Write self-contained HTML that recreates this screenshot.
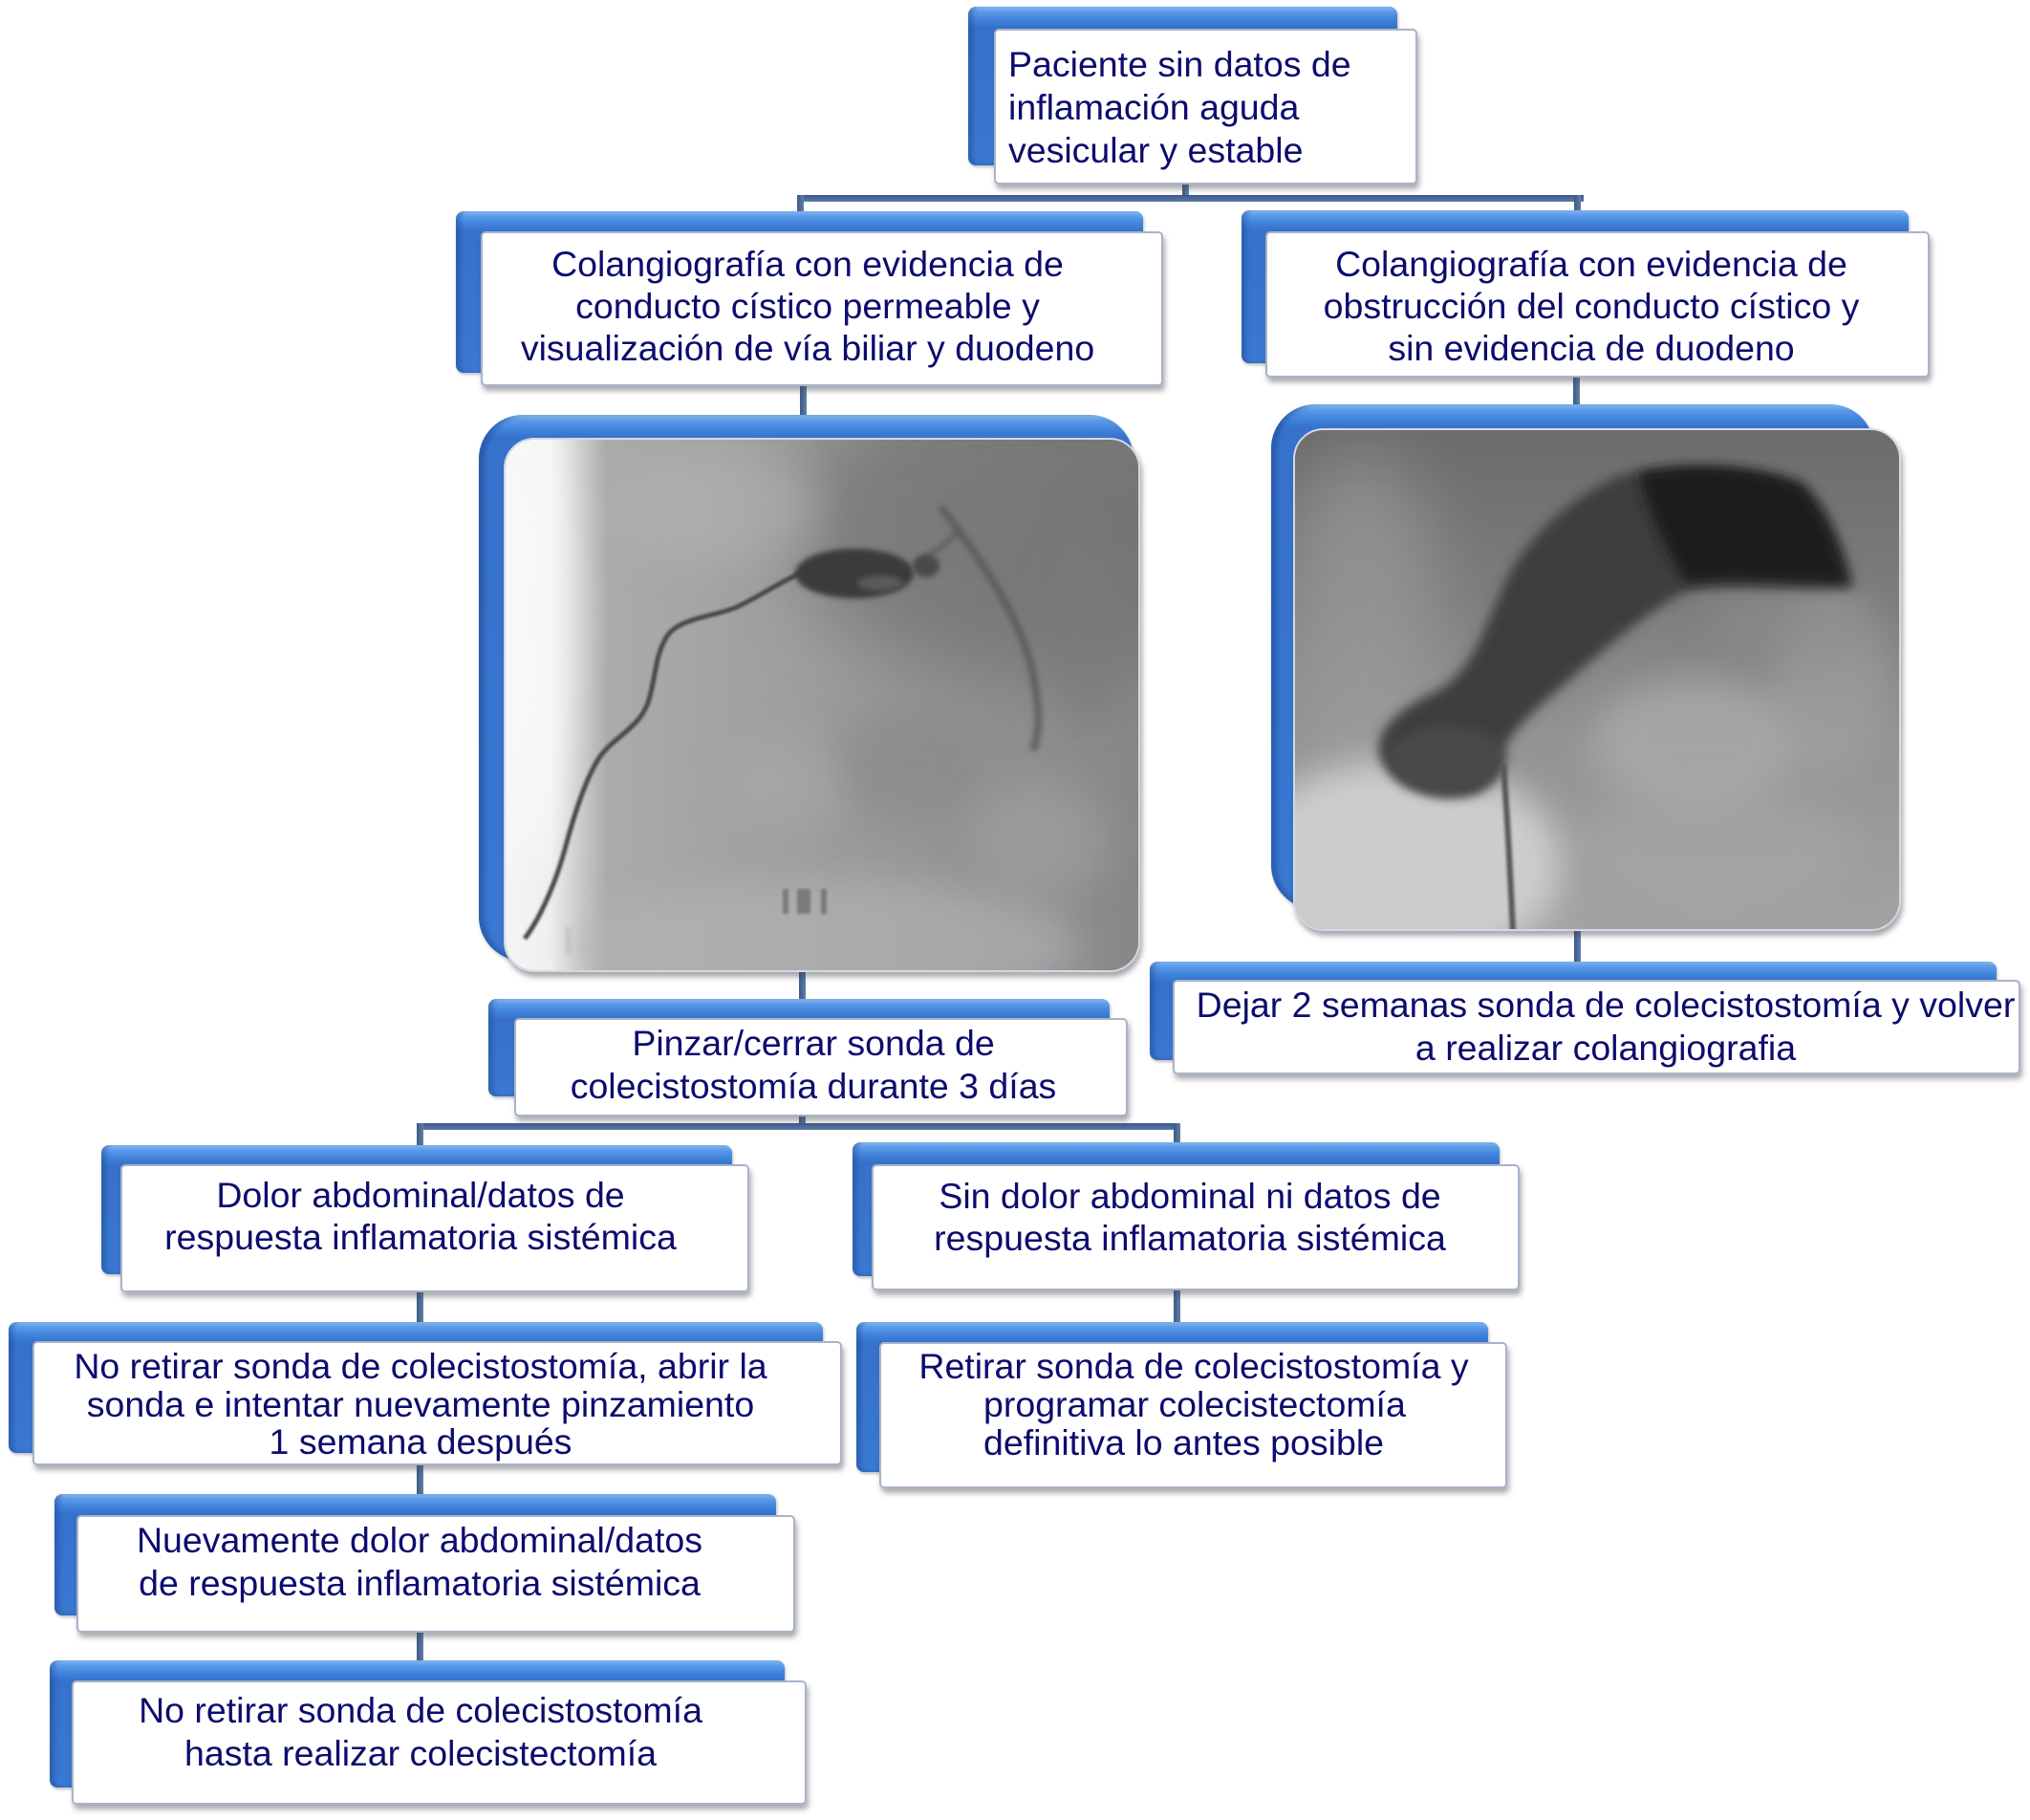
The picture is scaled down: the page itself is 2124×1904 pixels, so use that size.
<!DOCTYPE html>
<html>
<head>
<meta charset="utf-8">
<style>
  html,body{margin:0;padding:0;background:#fff;}
  body{width:2124px;height:1904px;position:relative;overflow:hidden;}
  .bb{position:absolute;border-radius:8px;
      background:linear-gradient(180deg,#92c4f7 0px,#5c9beb 5px,#4386de 12px,#3672cc 21px,#3a78d3 100%);
      box-shadow:inset 5px 0 4px rgba(25,60,130,0.35), 1px 2px 3px rgba(0,0,0,0.25);}
  .wb{position:absolute;background:#fff;border:2px solid #a7b4c8;border-radius:5px;box-sizing:border-box;
      box-shadow:2px 5px 6px rgba(70,70,80,0.45);}
  .t{position:absolute;font-family:"Liberation Sans",Arial,sans-serif;font-size:37.5px;color:#0c0c6e;
     white-space:nowrap;text-align:center;width:1000px;}
  .ln{position:absolute;background:linear-gradient(180deg,#3d5985,#5a7aa6);}
  .lv{position:absolute;background:linear-gradient(90deg,#3d5985,#5f7fa9);}
  .frame{position:absolute;border-radius:46px;
      background:linear-gradient(180deg,#8ec2f6 0px,#5a9aea 6px,#4386de 14px,#3672cc 24px,#3a78d3 100%);
      box-shadow:inset 6px 0 5px rgba(25,60,130,0.4), 1px 2px 3px rgba(0,0,0,0.25);}
  .photo{position:absolute;border-radius:32px;overflow:hidden;border:2px solid #d3dae4;box-sizing:border-box;
      box-shadow:2px 5px 6px rgba(60,60,70,0.45);background:#999;}
</style>
</head>
<body>

<!-- connectors -->
<div class="lv" style="left:1237px;top:190px;width:7px;height:20px;"></div>
<div class="ln" style="left:834px;top:204px;width:823px;height:7px;"></div>
<div class="lv" style="left:834px;top:204px;width:7px;height:20px;"></div>
<div class="lv" style="left:1647px;top:204px;width:7px;height:20px;"></div>
<div class="lv" style="left:837px;top:400px;width:7px;height:36px;"></div>
<div class="lv" style="left:1646px;top:392px;width:7px;height:33px;"></div>
<div class="lv" style="left:836px;top:1012px;width:7px;height:35px;"></div>
<div class="lv" style="left:1647px;top:970px;width:7px;height:38px;"></div>
<div class="lv" style="left:836px;top:1165px;width:7px;height:14px;"></div>
<div class="ln" style="left:436px;top:1175px;width:799px;height:7px;"></div>
<div class="lv" style="left:436px;top:1175px;width:7px;height:25px;"></div>
<div class="lv" style="left:1228px;top:1175px;width:7px;height:22px;"></div>
<div class="lv" style="left:436px;top:1348px;width:7px;height:37px;"></div>
<div class="lv" style="left:1228px;top:1346px;width:7px;height:39px;"></div>
<div class="lv" style="left:436px;top:1530px;width:7px;height:35px;"></div>
<div class="lv" style="left:436px;top:1704px;width:7px;height:35px;"></div>

<!-- B1 top -->
<div class="bb" style="left:1013px;top:7px;width:449px;height:166px;"></div>
<div class="wb" style="left:1040px;top:30px;width:443px;height:163px;"></div>
<div class="t" style="left:1055px;top:45px;width:420px;text-align:left;line-height:45px;">Paciente sin datos de<br>inflamación aguda<br>vesicular y estable</div>

<!-- B2 -->
<div class="bb" style="left:477px;top:221px;width:719px;height:169px;"></div>
<div class="wb" style="left:503px;top:242px;width:714px;height:162px;"></div>
<div class="t" style="left:345px;top:254px;line-height:44px;">Colangiografía con evidencia de<br>conducto cístico permeable y<br>visualización de vía biliar y duodeno</div>

<!-- B3 -->
<div class="bb" style="left:1299px;top:220px;width:698px;height:160px;"></div>
<div class="wb" style="left:1324px;top:242px;width:695px;height:153px;"></div>
<div class="t" style="left:1165px;top:254px;line-height:44px;">Colangiografía con evidencia de<br>obstrucción del conducto cístico y<br>sin evidencia de duodeno</div>

<!-- Left image -->
<div class="frame" style="left:501px;top:434px;width:685px;height:571px;"></div>
<div class="photo" style="left:527px;top:458px;width:666px;height:559px;">
<svg width="666" height="559" viewBox="0 0 666 559" style="display:block">
  <defs>
    <linearGradient id="lg1" x1="0" x2="1" y1="0" y2="0">
      <stop offset="0" stop-color="#f5f5f5"/>
      <stop offset="0.07" stop-color="#efefef"/>
      <stop offset="0.11" stop-color="#cfcfcf"/>
      <stop offset="0.16" stop-color="#ababab"/>
      <stop offset="0.5" stop-color="#9c9c9c"/>
      <stop offset="0.85" stop-color="#8e8e8e"/>
      <stop offset="1" stop-color="#878787"/>
    </linearGradient>
    <filter id="b40" x="-50%" y="-50%" width="200%" height="200%"><feGaussianBlur stdDeviation="40"/></filter>
    <filter id="b20" x="-50%" y="-50%" width="200%" height="200%"><feGaussianBlur stdDeviation="20"/></filter>
    <filter id="b8" x="-50%" y="-50%" width="200%" height="200%"><feGaussianBlur stdDeviation="8"/></filter>
    <filter id="b3" x="-50%" y="-50%" width="200%" height="200%"><feGaussianBlur stdDeviation="3"/></filter>
    <filter id="b1" x="-50%" y="-50%" width="200%" height="200%"><feGaussianBlur stdDeviation="1.3"/></filter>
  </defs>
  <rect width="666" height="559" fill="url(#lg1)"/>
  <ellipse cx="540" cy="90" rx="240" ry="160" fill="#666" opacity="0.55" filter="url(#b40)"/>
  <ellipse cx="30" cy="180" rx="40" ry="260" fill="#fbfbfb" opacity="0.7" filter="url(#b20)"/>
  <ellipse cx="340" cy="530" rx="260" ry="70" fill="#b6b6b6" opacity="0.6" filter="url(#b20)"/>
  <ellipse cx="220" cy="70" rx="110" ry="60" fill="#b4b4b4" opacity="0.5" filter="url(#b20)"/>
  <ellipse cx="420" cy="340" rx="80" ry="60" fill="#858585" opacity="0.5" filter="url(#b20)"/>
  <ellipse cx="560" cy="420" rx="70" ry="60" fill="#a6a6a6" opacity="0.5" filter="url(#b20)"/>
  <ellipse cx="290" cy="360" rx="60" ry="50" fill="#aaaaaa" opacity="0.5" filter="url(#b20)"/>
  <ellipse cx="610" cy="200" rx="40" ry="100" fill="#7a7a7a" opacity="0.6" filter="url(#b20)"/>
  <path d="M20,522 C40,495 55,455 63,425 S85,350 100,330 S142,300 150,272 S156,228 168,207 S220,185 242,175 S292,146 312,138" stroke="#4a4a4a" stroke-width="5" fill="none" filter="url(#b1)"/>
  <path d="M455,70 C478,100 500,130 518,162 S548,222 553,252 S560,300 552,325" stroke="#595959" stroke-width="8" fill="none" opacity="0.8" filter="url(#b3)"/>
  <path d="M430,130 C445,120 460,110 475,95" stroke="#5a5a5a" stroke-width="6" fill="none" opacity="0.7" filter="url(#b3)"/>
  <ellipse cx="365" cy="140" rx="62" ry="26" fill="#3a3a3a" filter="url(#b3)"/>
  <ellipse cx="392" cy="150" rx="24" ry="8" fill="#5a5a5a" filter="url(#b3)"/>
  <ellipse cx="440" cy="132" rx="14" ry="12" fill="#4a4a4a" filter="url(#b3)"/>
  <g opacity="0.55" filter="url(#b1)">
    <rect x="290" y="470" width="6" height="26" fill="#555"/>
    <rect x="305" y="470" width="14" height="26" fill="#555"/>
    <rect x="330" y="470" width="6" height="26" fill="#555"/>
  </g>
  <g opacity="0.5" filter="url(#b1)">
    <rect x="62" y="510" width="7" height="28" fill="#bbb"/>
    <rect x="78" y="510" width="14" height="28" fill="#bbb"/>
  </g>
</svg>
</div>

<!-- Right image -->
<div class="frame" style="left:1330px;top:423px;width:631px;height:528px;"></div>
<div class="photo" style="left:1353px;top:448px;width:636px;height:526px;">
<svg width="636" height="526" viewBox="0 0 636 526" style="display:block">
  <defs>
    <linearGradient id="lg2" x1="0" x2="0" y1="0" y2="1">
      <stop offset="0" stop-color="#6c6c6c"/>
      <stop offset="0.35" stop-color="#7d7d7d"/>
      <stop offset="0.6" stop-color="#929292"/>
      <stop offset="1" stop-color="#a3a3a3"/>
    </linearGradient>
    <filter id="c40" x="-50%" y="-50%" width="200%" height="200%"><feGaussianBlur stdDeviation="35"/></filter>
    <filter id="c20" x="-50%" y="-50%" width="200%" height="200%"><feGaussianBlur stdDeviation="18"/></filter>
    <filter id="c6" x="-50%" y="-50%" width="200%" height="200%"><feGaussianBlur stdDeviation="6"/></filter>
    <filter id="c2" x="-50%" y="-50%" width="200%" height="200%"><feGaussianBlur stdDeviation="1.6"/></filter>
  </defs>
  <rect width="636" height="526" fill="url(#lg2)"/>
  <ellipse cx="70" cy="200" rx="80" ry="180" fill="#a0a0a0" opacity="0.6" filter="url(#c40)"/>
  <ellipse cx="110" cy="455" rx="170" ry="110" fill="#cdcdcd" filter="url(#c20)"/>
  <ellipse cx="420" cy="330" rx="110" ry="70" fill="#adadad" opacity="0.7" filter="url(#c20)"/>
  <ellipse cx="560" cy="270" rx="60" ry="100" fill="#a2a2a2" opacity="0.6" filter="url(#c20)"/>
  <ellipse cx="440" cy="440" rx="150" ry="60" fill="#a9a9a9" opacity="0.5" filter="url(#c20)"/>
  <ellipse cx="520" cy="200" rx="90" ry="40" fill="#8c8c8c" opacity="0.6" filter="url(#c20)"/>
  <path d="M338,48 C380,35 470,35 530,55 C560,80 575,130 585,165 C520,168 440,160 406,170 C370,190 340,215 300,250 C260,285 235,305 220,330 C215,350 210,370 190,380 C150,392 110,375 90,345 C80,320 100,295 150,272 C185,250 195,215 215,170 C235,120 280,75 338,48 Z" fill="#3c3c3c" filter="url(#c6)"/>
  <path d="M360,45 C420,32 490,38 530,58 C555,85 570,125 578,160 C520,160 450,152 410,160 C390,130 370,90 360,45 Z" fill="#1e1e1e" filter="url(#c6)"/>
  <ellipse cx="158" cy="345" rx="62" ry="36" fill="#4a4a4a" filter="url(#c6)"/>
  <path d="M218,350 C222,400 225,460 228,526" stroke="#545454" stroke-width="6" fill="none" filter="url(#c2)"/>
</svg>
</div>

<!-- B4 Pinzar -->
<div class="bb" style="left:511px;top:1045px;width:650px;height:102px;"></div>
<div class="wb" style="left:538px;top:1065px;width:642px;height:103px;"></div>
<div class="t" style="left:351px;top:1069px;line-height:45px;">Pinzar/cerrar sonda de<br>colecistostomía durante 3 días</div>

<!-- B5 Dejar -->
<div class="bb" style="left:1203px;top:1006px;width:886px;height:103px;"></div>
<div class="wb" style="left:1227px;top:1025px;width:887px;height:99px;"></div>
<div class="t" style="left:1180px;top:1029px;line-height:45px;">Dejar 2 semanas sonda de colecistostomía y volver<br>a realizar colangiografia</div>

<!-- B6 Dolor -->
<div class="bb" style="left:106px;top:1198px;width:660px;height:135px;"></div>
<div class="wb" style="left:126px;top:1218px;width:658px;height:134px;"></div>
<div class="t" style="left:-60px;top:1228px;line-height:44px;">Dolor abdominal/datos de<br>respuesta inflamatoria sistémica</div>

<!-- B7 Sin dolor -->
<div class="bb" style="left:892px;top:1195px;width:677px;height:140px;"></div>
<div class="wb" style="left:912px;top:1218px;width:678px;height:132px;"></div>
<div class="t" style="left:745px;top:1229px;line-height:44px;">Sin dolor abdominal ni datos de<br>respuesta inflamatoria sistémica</div>

<!-- B8 No retirar abrir -->
<div class="bb" style="left:9px;top:1383px;width:852px;height:137px;"></div>
<div class="wb" style="left:34px;top:1403px;width:847px;height:130px;"></div>
<div class="t" style="left:-60px;top:1410px;line-height:39.5px;">No retirar sonda de colecistostomía, abrir la<br>sonda e intentar nuevamente pinzamiento<br>1 semana después</div>

<!-- B9 Retirar -->
<div class="bb" style="left:896px;top:1383px;width:661px;height:157px;"></div>
<div class="wb" style="left:920px;top:1404px;width:657px;height:153px;"></div>
<div class="t" style="left:749px;top:1409px;line-height:40px;">Retirar sonda de colecistostomía y</div>
<div class="t" style="left:1029px;top:1449px;width:560px;text-align:left;line-height:40px;">programar colecistectomía<br>definitiva lo antes posible</div>

<!-- B10 Nuevamente -->
<div class="bb" style="left:57px;top:1563px;width:755px;height:127px;"></div>
<div class="wb" style="left:80px;top:1585px;width:752px;height:123px;"></div>
<div class="t" style="left:-61px;top:1589px;line-height:45px;">Nuevamente dolor abdominal/datos<br>de respuesta inflamatoria sistémica</div>

<!-- B11 No retirar hasta -->
<div class="bb" style="left:52px;top:1737px;width:769px;height:133px;"></div>
<div class="wb" style="left:75px;top:1758px;width:769px;height:130px;"></div>
<div class="t" style="left:-60px;top:1767px;line-height:45px;">No retirar sonda de colecistostomía<br>hasta realizar colecistectomía</div>

</body>
</html>
